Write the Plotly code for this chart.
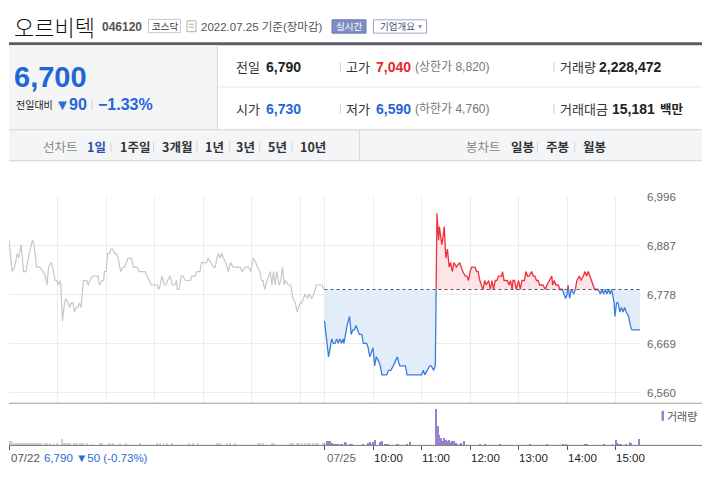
import numpy as np
import plotly.graph_objects as go

# minutes from 07/22 09:00 ; 390 = 07/25 09:00 ; 780 = 07/25 15:30
prev_min = [0, 4, 7, 10, 12, 15, 18, 21, 23, 25, 29, 31, 34, 38, 42, 45, 47, 49, 52, 54,
            57, 59, 61, 63, 64, 66, 68, 70, 73, 75, 77, 79, 81, 83, 85, 87, 89, 92, 96, 98,
            100, 103, 108, 110, 112, 115, 117, 118, 120, 122, 124, 126, 128, 131, 133, 136, 138, 141, 143, 147,
            151, 154, 158, 161, 168, 171, 174, 176, 180, 183, 185, 187, 189, 192, 194,
            196, 199, 202, 205, 207, 208, 210, 213, 215, 218, 224, 226, 230, 232, 236, 238, 241, 244, 246, 250,
            253, 255, 257, 259, 261, 263, 265, 268, 271, 274, 277, 286, 288, 292, 296, 299, 302, 305, 307, 310,
            312, 314, 316, 319, 321, 323, 325, 327, 329, 331, 334, 336, 338, 340, 342, 345, 348, 351, 354, 356,
            358, 360, 362, 364, 366, 369, 371, 374, 377, 380, 386, 387, 389]
prev_price = [6900, 6830, 6840, 6870, 6860, 6890, 6830, 6830, 6850, 6870, 6900, 6890, 6840, 6840, 6830, 6820, 6800, 6840, 6850, 6840,
              6810, 6810, 6800, 6810, 6800, 6720, 6750, 6770, 6760, 6750, 6760, 6760, 6740, 6750, 6750, 6760, 6750, 6810, 6810, 6800,
              6810, 6820, 6820, 6820, 6800, 6810, 6810, 6830, 6830, 6870, 6870, 6880, 6880, 6870, 6870, 6850, 6830, 6840, 6840, 6860,
              6860, 6840, 6840, 6830, 6830, 6820, 6810, 6800, 6800, 6800, 6790, 6800, 6820, 6800, 6800,
              6810, 6820, 6800, 6800, 6810, 6790, 6790, 6820, 6820, 6810, 6810, 6820, 6820, 6830, 6830, 6850, 6850, 6850, 6860, 6850,
              6840, 6840, 6860, 6870, 6860, 6870, 6860, 6850, 6830, 6850, 6840, 6840, 6830, 6840, 6840, 6830, 6860, 6850, 6840, 6830,
              6810, 6810, 6790, 6810, 6820, 6830, 6800, 6830, 6800, 6830, 6800, 6810, 6840, 6800, 6810, 6800, 6800, 6770, 6760, 6740,
              6750, 6760, 6760, 6770, 6780, 6770, 6780, 6770, 6780, 6800, 6800, 6800, 6790]

today_min = [390, 395, 397, 399, 401, 403, 405, 407, 409, 411, 413, 414, 417, 418, 421, 423, 425, 427, 429, 431,
             433, 436, 438, 442, 444, 446, 448, 450, 452, 454, 457, 459, 461, 467, 469, 472, 475, 478, 480, 483,
             487, 490, 492, 510, 512, 514, 517, 520, 522, 525, 527, 529, 531, 532, 535, 536, 538, 540, 542, 544,
             546, 548, 550, 553, 557, 559, 561, 564, 566, 568, 570, 572, 576, 578, 580,
             582, 584, 586, 588, 590, 593, 595, 597, 599, 601, 603, 605, 607, 609, 610, 612, 614, 616, 618, 620,
             622, 623, 625, 627, 630, 632, 634, 637, 639, 641, 643, 646, 648, 650, 652, 654, 656, 660, 663, 665,
             668, 671, 672, 674, 676, 679, 681, 684, 686, 688, 690, 691, 693, 695, 698, 700, 702, 705, 707, 710,
             712, 714, 716, 718, 720, 722, 724, 726, 728, 731, 733, 735, 737, 739, 741, 743, 745, 746, 748, 749,
             751, 753, 755, 757, 759, 761, 763, 766, 768, 770, 780]
today_price = [6720, 6640, 6660, 6680, 6670, 6670, 6680, 6670, 6680, 6670, 6680, 6670, 6700, 6710, 6730, 6690, 6700, 6700, 6710, 6700,
               6690, 6690, 6670, 6670, 6660, 6640, 6650, 6660, 6620, 6640, 6630, 6620, 6600, 6600, 6610, 6610, 6620, 6630, 6640, 6620,
               6620, 6620, 6600, 6600, 6610, 6600, 6610, 6620, 6620, 6610, 6620, 6960, 6900, 6930, 6890, 6900, 6930, 6860, 6880, 6840,
               6850, 6830, 6850, 6840, 6850, 6840, 6830, 6820, 6820, 6810, 6830, 6840, 6840, 6830, 6830,
               6810, 6800, 6790, 6810, 6800, 6810, 6790, 6810, 6790, 6810, 6810, 6820, 6820, 6820, 6830, 6810, 6810, 6810, 6800, 6810,
               6790, 6810, 6810, 6790, 6810, 6790, 6810, 6810, 6830, 6820, 6820, 6830, 6820, 6820, 6810, 6810, 6800, 6800, 6790, 6800,
               6810, 6820, 6800, 6810, 6800, 6800, 6790, 6790, 6780, 6770, 6780, 6800, 6770, 6790, 6780, 6790, 6810, 6820, 6810, 6820,
               6830, 6820, 6830, 6820, 6810, 6800, 6790, 6790, 6790, 6780, 6790, 6780, 6790, 6780, 6790, 6780, 6790, 6780, 6760, 6730,
               6760, 6760, 6740, 6750, 6740, 6750, 6740, 6730, 6710, 6700, 6700]
prev_close = 6790

# volume, thousand shares
prev_vol_min = [0, 2, 4, 5, 7, 10, 12, 14, 16, 18, 20, 22, 24, 26, 28, 30, 32, 34, 36, 38,
                40, 44, 47, 51, 55, 59, 65, 67, 69, 71, 73, 75, 80, 82, 84, 88, 90, 92, 96, 102,
                112, 115, 123, 125, 129, 137, 145, 162, 183, 187, 191, 195, 201, 222, 228, 234, 257, 259, 261, 269,
                273, 279, 308, 310, 314, 325, 327, 347, 349, 351, 356, 358, 362, 366, 370, 372, 376, 380, 382, 388]
prev_vol = [35, 30, 24, 18, 18, 16, 14, 14, 14, 14, 16, 14, 14, 14, 14, 14, 14, 16, 14, 14,
            14, 14, 18, 14, 14, 14, 46, 14, 14, 14, 14, 14, 14, 14, 14, 18, 14, 14, 14, 14,
            14, 14, 18, 18, 14, 14, 14, 14, 14, 14, 14, 14, 14, 14, 14, 14, 14, 14, 14, 14,
            14, 14, 14, 14, 14, 14, 14, 14, 14, 14, 14, 18, 14, 14, 14, 14, 14, 18, 14, 14]
today_vol_min = [390, 393, 396, 397, 399, 402, 404, 407, 410, 412, 415, 417, 421, 424, 437, 444, 446, 448, 450, 452,
                 459, 461, 465, 467, 469, 479, 481, 492, 496, 528, 530, 532, 534, 536, 538, 540, 542, 544, 546, 548,
                 550, 552, 554, 557, 559, 562, 582, 588, 607, 644, 665, 685, 688, 712, 714, 735, 746, 750, 751, 753,
                 755, 757, 763, 767, 769, 779]
today_vol = [16, 35, 30, 30, 16, 11, 11, 11, 11, 11, 22, 16, 11, 11, 11, 16, 22, 11, 22, 42,
             22, 30, 11, 11, 11, 11, 11, 11, 22, 290, 158, 82, 56, 30, 56, 42, 30, 42, 22, 35,
             30, 16, 11, 11, 16, 30, 11, 11, 11, 11, 11, 11, 11, 11, 11, 11, 11, 38, 16, 11,
             11, 11, 11, 22, 16, 46]

y_ticks = [6560, 6669, 6778, 6887, 6996]
grid_min = [0, 60, 120, 180, 240, 300, 360, 390, 450, 510, 570, 630, 690, 750]
time_ticks = [0, 390, 450, 510, 570, 630, 690, 750]
time_labels = ['07/22', '07/25', '10:00', '11:00', '12:00', '13:00', '14:00', '15:00']

W, H = 702, 477
FONT = 'Liberation Sans, Noto Sans CJK KR, sans-serif'
KFONT = 'Noto Sans CJK KR, sans-serif'
BLUE = '#1f66d8'
RED = '#e8262b'


def X(px):
    return px / W


def Y(py):
    return 1 - py / H


fig = go.Figure()

# split today's line where it crosses the previous close
m = np.array(today_min, dtype=float)
p = np.array(today_price, dtype=float)
xs, ys = [m[0]], [p[0]]
for i in range(1, len(m)):
    a, b = p[i - 1] - prev_close, p[i] - prev_close
    if a * b < 0:
        t = a / (a - b)
        xs.append(m[i - 1] + t * (m[i] - m[i - 1]))
        ys.append(prev_close)
    xs.append(m[i])
    ys.append(p[i])
xs = np.array(xs)
ys = np.array(ys)
base = np.full(len(xs), prev_close)

fig.add_trace(go.Scatter(x=xs, y=base, mode='lines', line=dict(width=0), hoverinfo='skip'))
fig.add_trace(go.Scatter(x=xs, y=np.maximum(ys, prev_close), mode='lines', line=dict(width=0),
                         fill='tonexty', fillcolor='#fde4e6', hoverinfo='skip'))
fig.add_trace(go.Scatter(x=xs, y=base, mode='lines', line=dict(width=0), hoverinfo='skip'))
fig.add_trace(go.Scatter(x=xs, y=np.minimum(ys, prev_close), mode='lines', line=dict(width=0),
                         fill='tonexty', fillcolor='#e3ecf9', hoverinfo='skip'))

fig.add_trace(go.Scatter(x=prev_min, y=prev_price, mode='lines', line=dict(color='#c6c7cc', width=1.2)))
fig.add_trace(go.Scatter(x=xs, y=np.where(ys <= prev_close, ys, np.nan), mode='lines',
                         line=dict(color='#3a7ddc', width=1.3)))
fig.add_trace(go.Scatter(x=xs, y=np.where(ys >= prev_close, ys, np.nan), mode='lines',
                         line=dict(color='#f0303a', width=1.3)))
fig.add_trace(go.Scatter(x=[390, 780], y=[prev_close, prev_close], mode='lines',
                         line=dict(color='#555', width=1, dash='dot')))

fig.add_trace(go.Bar(x=prev_vol_min, y=prev_vol, width=1.2, marker=dict(color='#cfcfcf', line_width=0),
                     xaxis='x2', yaxis='y2'))
fig.add_trace(go.Bar(x=today_vol_min, y=today_vol, width=1.2, marker=dict(color='#9583cc', line_width=0),
                     xaxis='x2', yaxis='y2'))

fig.update_layout(
    width=W, height=H, autosize=False,
    margin=dict(l=0, r=0, t=0, b=0),
    paper_bgcolor='white', plot_bgcolor='white',
    showlegend=False, bargap=0,
    xaxis=dict(domain=[X(9), X(640)], range=[0, 780], tickvals=grid_min, showticklabels=False,
               gridcolor='#ececec', gridwidth=1, zeroline=False, showline=False, fixedrange=True),
    yaxis=dict(domain=[Y(402.3), Y(193.3)], range=[6536.7, 6996.3], side='right',
               tickvals=y_ticks, ticktext=['{:,}'.format(v) for v in y_ticks],
               tickfont=dict(size=11.5, color='#666', family=FONT), ticklabelstandoff=6,
               gridcolor='#ececec', zeroline=False, showline=False, fixedrange=True),
    xaxis2=dict(domain=[X(9), X(640)], range=[0, 780], anchor='y2', showgrid=False,
                tickvals=time_ticks, ticks='outside', ticklen=4, tickcolor='#555',
                showticklabels=False, zeroline=False, showline=False, fixedrange=True),
    yaxis2=dict(domain=[Y(445), Y(402.3)], range=[0, 341], showgrid=False, showticklabels=False,
                zeroline=False, fixedrange=True),
)


def rect(x0, y0, x1, y1, fill=None, line=None):
    fig.add_shape(type='rect', xref='paper', yref='paper', x0=X(x0), x1=X(x1), y0=Y(y0), y1=Y(y1),
                  fillcolor=fill or 'rgba(0,0,0,0)', line=dict(color=line or 'rgba(0,0,0,0)', width=1 if line else 0),
                  layer='below' if fill and not line else 'above')


def hline(x0, x1, y, color, width=1):
    fig.add_shape(type='line', xref='paper', yref='paper', x0=X(x0), x1=X(x1), y0=Y(y), y1=Y(y),
                  line=dict(color=color, width=width))


def vline(x, y0, y1, color, width=1):
    fig.add_shape(type='line', xref='paper', yref='paper', x0=X(x), x1=X(x), y0=Y(y0), y1=Y(y1),
                  line=dict(color=color, width=width))


def label(px, py, text, size=12, color='#333', bold=False, family=FONT, anchor='left', weight=None):
    font = dict(size=size, color=color, family=family)
    if weight:
        font['weight'] = weight
    fig.add_annotation(x=X(px), y=Y(py), xref='paper', yref='paper', showarrow=False,
                       text='<b>%s</b>' % text if bold else text, xanchor=anchor, yanchor='middle',
                       font=font, borderpad=0)


# header
label(13, 20, '오르비텍', size=22, color='#111', family=KFONT, weight=300)
label(101, 21, '046120', size=12, color='#555', bold=True)
rect(148.5, 13.5, 180.5, 27, line='#c8c8c8')
label(164.5, 20.5, '코스닥', size=9.5, color='#333', family=KFONT, anchor='center')
rect(187, 15, 196, 26, line='#b0b0b0')
hline(189, 194, 18.5, '#b0b0b0')
hline(189, 194, 21.5, '#b0b0b0')
label(199.5, 21, '2022.07.25 기준(장마감)', size=11.5, color='#555')
rect(332, 14, 366, 27.5, fill='#7e8ec2', line='#6a7aae')
label(349, 20.5, '실시간', size=9.5, color='white', family=KFONT, anchor='center')
rect(373.5, 14, 426.5, 27.5, fill='white', line='#99a5cc')
label(398, 20.5, '기업개요', size=9.5, color='#44507a', family=KFONT, anchor='center')
label(419.5, 20.5, '▾', size=8, color='#8a94b4', anchor='center')

rect(9, 36.7, 702, 39.7, fill='#5b5e64')
rect(9, 39.7, 217.3, 124.5, fill='#f5f5f5')
vline(217.3, 39.7, 124.5, '#d6d6d6')
hline(218, 702, 82, '#e6e6e6')

# current price box
label(13, 72, '6,700', size=29, color=BLUE, bold=True)
label(15, 100, '전일대비', size=10, color='#222', family=KFONT)
label(54, 100, '▼', size=15, color='#2a6fd6')
label(68, 100, '90', size=16, color=BLUE, bold=True)
vline(92, 95, 105, '#cfcfcf')
label(96.5, 100, '−1.33%', size=16, color=BLUE, bold=True)

# quote rows
for yy in (61.7, 104.3):
    vline(340.3, yy - 5, yy + 5, '#d0d0d0')
    vline(554, yy - 5, yy + 5, '#d0d0d0')
label(235, 61.7, '전일', size=13, color='#333', family=KFONT)
label(265, 61.7, '6,790', size=14, color='#222', bold=True)
label(345, 61.7, '고가', size=13, color='#333', family=KFONT)
label(374.5, 61.7, '7,040', size=14, color=RED, bold=True)
label(413.5, 61.7, '(상한가 8,820)', size=12, color='#777')
label(559, 61.7, '거래량', size=13, color='#333', family=KFONT)
label(598, 61.7, '2,228,472', size=14, color='#222', bold=True)
label(235, 104.3, '시가', size=13, color='#333', family=KFONT)
label(265, 104.3, '6,730', size=14, color=BLUE, bold=True)
label(345, 104.3, '저가', size=13, color='#333', family=KFONT)
label(374.5, 104.3, '6,590', size=14, color=BLUE, bold=True)
label(413.5, 104.3, '(하한가 4,760)', size=12, color='#777')
label(559, 104.3, '거래대금', size=13, color='#333', family=KFONT)
label(610.5, 104.3, '15,181', size=14, color='#222', bold=True)
label(659, 104.3, '백만', size=12.5, color='#222', bold=True, family=KFONT)

# tab bar
rect(9, 125.3, 702, 156.7, fill='#f4f5f7')
hline(9, 702, 125.3, '#d2d2d2')
hline(9, 702, 156.7, '#d2d2d2')
vline(359.6, 125.3, 156.7, '#d8d8d8')
label(42, 142.7, '선차트', size=12.5, color='#888', family=KFONT)
label(86, 142.7, '1일', size=12.5, color='#2a52b0', bold=True, family=KFONT)
tabs = [(118.5, '1주일'), (160.5, '3개월'), (203.5, '1년'), (234.5, '3년'), (267, '5년'), (298.5, '10년')]
for x, t in tabs:
    label(x, 142.7, t, size=12.5, color='#333', bold=True, family=KFONT)
for x in (111, 153.6, 197, 229.7, 259.7, 292):
    vline(x, 137.5, 148, '#d4d4d4')
label(464.5, 142.7, '봉차트', size=12.5, color='#888', family=KFONT)
for x, t in ((510, '일봉'), (545, '주봉'), (581.5, '월봉')):
    label(x, 142.7, t, size=12.5, color='#333', bold=True, family=KFONT)
for x in (537.4, 574.6):
    vline(x, 137.5, 148, '#d4d4d4')

# chart frame lines
hline(9, 702, 402.3, '#9c9c9c')
hline(9, 702, 445, '#777777')
rect(661.5, 410, 664, 420, fill='#9583cc')
fig.layout.shapes[-1].layer = 'above'
label(666, 415, '거래량', size=11, color='#555', family=KFONT)

# time axis labels
label(9.5, 457.7, time_labels[0], size=11.5, color='#555')
label(42.5, 457.7, '6,790 ▼50 (-0.73%)', size=11.5, color='#2a6bd8')
label(325.5, 457.7, time_labels[1], size=11.5, color='#666')
for t, txt in zip(time_ticks[2:], time_labels[2:]):
    label(9 + t * 631 / 780 - 0.5, 457.7, txt, size=11.5, color='#222')

# page body has an 8px default margin; drop it so the figure sits at the window corner
fig.write_html("out.html", config={'displayModeBar': False},
               post_script="document.body.style.margin='0';")
